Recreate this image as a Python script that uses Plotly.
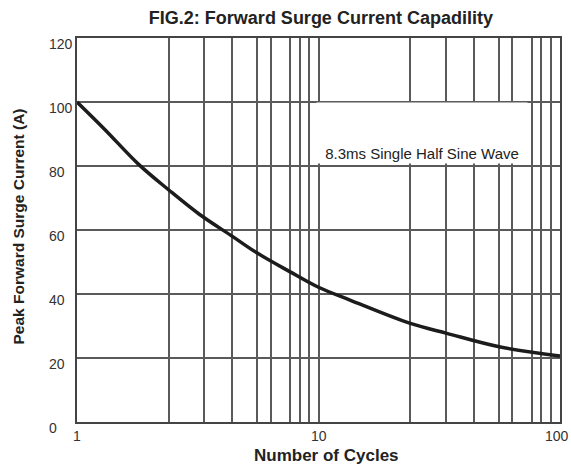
import math
import plotly.graph_objects as go

# ---- data ----
cycles = [1, 1.3, 1.8, 2.4, 3.2, 4.4, 5.6, 7.6, 10, 13.5, 24, 34, 56, 100]
current = [100, 91.5, 80.5, 72.5, 65, 58, 52.7, 47, 42.1, 38.1, 30.8, 27.7, 23.5, 20.6]

# vertical grid lines as drawn in the reference (irregular spacing)
x_grid = [1, 2.4, 3.37, 4.4, 5.57, 6.35, 7.65, 8.35, 9.15,
          10, 24, 33.7, 44.1, 55.8, 63.5, 76.4, 83.5, 91.6, 100]
x_ticks = [1, 10, 100]
x_tick_labels = ["1", "10", "100"]
y_ticks = [0, 20, 40, 60, 80, 100, 120]

title_text = "FIG.2: Forward Surge Current Capadility"
x_title = "Number of Cycles"
y_title = "Peak Forward Surge Current (A)"
note_text = "8.3ms Single Half Sine Wave"

FONT = "Liberation Sans, Arial, sans-serif"
GRID = "#5a5a5a"

fig = go.Figure()
fig.add_trace(go.Scatter(
    x=cycles, y=current, mode="lines",
    line=dict(color="#1c1c1c", width=3.5, shape="spline", smoothing=1.0),
    hoverinfo="skip", showlegend=False,
))

annotations = []
# y tick labels (left aligned, slightly below their grid lines as in the reference)
for v in y_ticks:
    annotations.append(dict(
        xref="paper", yref="y", x=-0.0614, y=v, yshift=-6,
        xanchor="left", yanchor="middle", showarrow=False,
        text=str(v), font=dict(family=FONT, size=14, color="#333333"),
    ))
# x tick labels
for i, (v, lab) in enumerate(zip(x_ticks, x_tick_labels)):
    annotations.append(dict(
        xref="x", yref="paper", x=math.log10(v), y=0, yshift=-4,
        xshift=-3 if i == len(x_ticks) - 1 else 0,
        xanchor="center", yanchor="top", showarrow=False,
        text=lab, font=dict(family=FONT, size=14, color="#333333"),
    ))
# y axis title
annotations.append(dict(
    xref="paper", yref="paper", x=-0.1215, y=0.51,
    xanchor="center", yanchor="middle", showarrow=False, textangle=-90,
    text="<b>%s</b>" % y_title, font=dict(family=FONT, size=15.5, color="#222222"),
))
# x axis title
annotations.append(dict(
    xref="paper", yref="paper", x=0.516, y=-0.0885,
    xanchor="center", yanchor="middle", showarrow=False,
    text="<b>%s</b>" % x_title, font=dict(family=FONT, size=17, color="#222222"),
))
# note with white box hiding grid lines
annotations.append(dict(
    xref="x", yref="y", x=1.43, y=90.2,
    xanchor="center", yanchor="middle", showarrow=False,
    text=note_text, font=dict(family=FONT, size=15, color="#222222"),
    bgcolor="white", width=208, height=58, borderpad=1, valign="bottom",
))

fig.update_layout(
    width=571, height=467,
    margin=dict(l=77, r=11, t=38, b=45, autoexpand=False),
    paper_bgcolor="white", plot_bgcolor="white",
    title=dict(text="<b>%s</b>" % title_text, x=0.562, xanchor="center",
               y=0.963, yanchor="middle",
               font=dict(family=FONT, size=18, color="#222222")),
    annotations=annotations,
    xaxis=dict(
        type="log", range=[0, 2], automargin=False,
        tickmode="array", tickvals=x_grid, showticklabels=False,
        showgrid=True, gridcolor=GRID, gridwidth=1.5,
        showline=True, mirror=True, linecolor="#444444", linewidth=1.5,
        ticks="", zeroline=False,
    ),
    yaxis=dict(
        range=[0, 120], tickmode="array", tickvals=y_ticks,
        showticklabels=False, automargin=False,
        showgrid=True, gridcolor=GRID, gridwidth=1.5,
        showline=True, mirror=True, linecolor="#444444", linewidth=1.5,
        ticks="", zeroline=False,
    ),
)

fig.write_html(
    "out.html",
    config={"displayModeBar": False},
    post_script="document.body.style.margin='0';document.body.style.overflow='hidden';",
)
